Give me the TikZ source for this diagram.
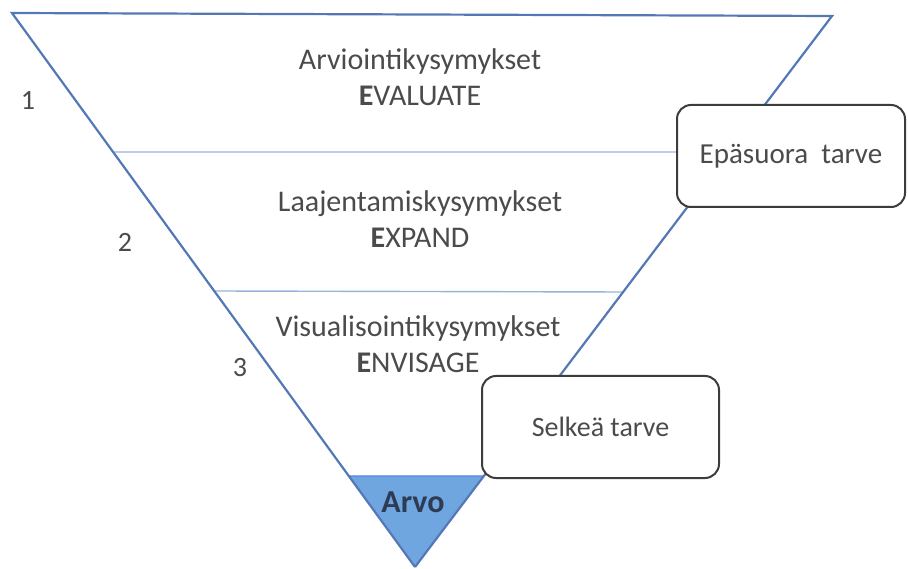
\documentclass[tikz,border=0pt]{standalone}
\usepackage{fontspec}
\setmainfont{Carlito}
\usetikzlibrary{intersections,calc}
\definecolor{edgeblue}{RGB}{84,120,182}
\definecolor{thinblue}{RGB}{150,180,215}
\definecolor{arvofill}{RGB}{112,166,224}
\definecolor{arvotext}{RGB}{45,60,85}
\definecolor{txtgray}{RGB}{75,75,75}
\definecolor{boxgray}{RGB}{60,60,60}
\tikzset{
  edge/.style={draw=edgeblue,line width=2.2pt},
  sep/.style={draw=thinblue,line width=1.4pt},
  lbl/.style={text=txtgray,font=\fontsize{30}{36}\selectfont,align=center},
  num/.style={text=txtgray,font=\fontsize{28}{32}\selectfont},
  needbox/.style={draw=boxgray,line width=2pt,fill=white,rounded corners=14pt,
    text=txtgray,font=\fontsize{29}{34}\selectfont},
}
\begin{document}
\begin{tikzpicture}[x=1pt,y=-1pt]
\useasboundingbox (0,0) rectangle (908,569);
% frame corners
\coordinate (TL) at (12,13);
\coordinate (TR) at (832,16);
\coordinate (AP) at (415,567);
% separator ends
\coordinate (L1) at ($(TL)!0.2509!(AP)$);
\coordinate (R1) at (677,152);
\coordinate (L2) at ($(TL)!0.5018!(AP)$);
\coordinate (R2) at ($(TR)!0.5009!(AP)$);
\coordinate (L3) at ($(TL)!0.8357!(AP)$);
\coordinate (R3) at ($(TR)!0.8348!(AP)$);
% Arvo triangle
\fill[arvofill] (L3) -- (R3) -- (AP) -- cycle;
\draw[sep] (L1) -- (R1);
\draw[sep] (L2) -- (R2);
\draw[sep,draw=arvofill!80!blue] (L3) -- (R3);
\draw[edge,line join=miter] (AP) -- (TL) -- (TR) -- (AP);
\node[font=\bfseries\fontsize{32}{36}\selectfont,text=arvotext] (arvo) at (413,502) {Arvo};
% texts
\node[lbl] (t1) at (420,77) {Arviointikysymykset\\\textbf{E}VALUATE};
\node[lbl] (t2) at (420,219) {Laajentamiskysymykset\\\textbf{E}XPAND};
\node[lbl] (t3) at (418,344) {Visualisointikysymykset\\\textbf{E}NVISAGE};
\node[num] (n1) at (28,100) {1};
\node[num] (n2) at (125,242) {2};
\node[num] (n3) at (240,368) {3};
% boxes
\node[needbox,minimum width=228pt,minimum height=102pt] (b1) at (791,156) {Epäsuora\ \ tarve};
\node[needbox,minimum width=237pt,minimum height=102pt,font=\fontsize{28}{34}\selectfont] (b2) at (600.5,427) {Selkeä tarve};
\end{tikzpicture}
\end{document}
